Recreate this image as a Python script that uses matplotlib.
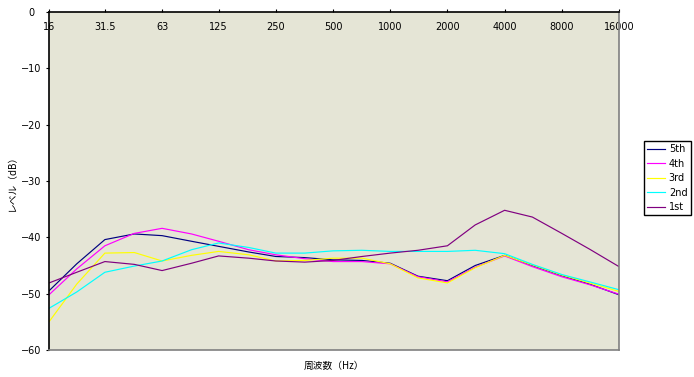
import matplotlib
matplotlib.use("Agg")
import matplotlib.pyplot as plt
from matplotlib.ticker import FixedLocator, FixedFormatter, NullLocator

# Data
freqs = [16, 22.4, 31.5, 45, 63, 90, 125, 180, 250, 355, 500, 710,
         1000, 1400, 2000, 2800, 4000, 5600, 8000, 11200, 16000]
s5th = [-49.5, -44.7, -40.4, -39.4, -39.7, -40.7, -41.6, -42.6, -43.4, -43.6, -44.0,
        -44.1, -44.6, -46.9, -47.7, -45.0, -43.2, -45.0, -46.8, -48.3, -50.2]
s4th = [-50.2, -45.6, -41.5, -39.3, -38.4, -39.4, -40.7, -42.2, -43.1, -43.8, -44.3,
        -44.3, -44.7, -47.0, -47.9, -45.3, -43.3, -45.2, -47.0, -48.4, -50.1]
s3rd = [-55.0, -48.3, -42.8, -42.7, -44.2, -43.2, -42.5, -43.1, -44.2, -44.1, -43.7,
        -43.7, -44.7, -47.2, -48.1, -45.4, -43.2, -44.9, -46.7, -48.1, -49.6]
s2nd = [-52.6, -49.7, -46.2, -45.1, -44.2, -42.2, -41.0, -41.8, -42.8, -42.8, -42.4,
        -42.3, -42.5, -42.5, -42.5, -42.3, -42.9, -44.8, -46.6, -47.9, -49.3]
s1st = [-48.1, -46.2, -44.3, -44.8, -45.9, -44.6, -43.3, -43.7, -44.2, -44.4, -44.1,
        -43.4, -42.8, -42.3, -41.5, -37.8, -35.2, -36.4, -39.3, -42.1, -45.2]
series_names = ["5th", "4th", "3rd", "2nd", "1st"]
series_vals = [s5th, s4th, s3rd, s2nd, s1st]
series_colors = ["#000080", "#FF00FF", "#FFFF00", "#00FFFF", "#800080"]

xtick_vals = [16, 31.5, 63, 125, 250, 500, 1000, 2000, 4000, 8000, 16000]
xtick_labels = ["16", "31.5", "63", "125", "250", "500", "1000", "2000", "4000", "8000", "16000"]
ytick_vals = [0, -10, -20, -30, -40, -50, -60]

W, H = 694, 377
fig = plt.figure(figsize=(W / 100, H / 100), dpi=100)
fig.patch.set_facecolor("white")
ax = fig.add_axes([49 / W, 1 - 350 / H, (619 - 49) / W, (350 - 12) / H])
ax.set_facecolor("#E5E5D6")

for name, vals, col in zip(series_names, series_vals, series_colors):
    ax.plot(freqs, vals, color=col, lw=0.85, label=name)

ax.set_xscale("log")
ax.set_xlim(16, 16000)
ax.set_ylim(-60, 0)
ax.xaxis.set_major_locator(FixedLocator(xtick_vals))
ax.xaxis.set_major_formatter(FixedFormatter(xtick_labels))
ax.xaxis.set_minor_locator(NullLocator())
ax.set_yticks(ytick_vals)

ax.tick_params(axis="x", which="major", top=True, bottom=False, labeltop=True,
               labelbottom=False, direction="out", length=2.5, width=0.8,
               pad=-17, labelsize=7)
ax.tick_params(axis="y", which="major", left=True, right=False, direction="out",
               length=2.5, width=0.8, pad=10, labelsize=7)
for lab in ax.get_yticklabels():
    lab.set_horizontalalignment("center")
for lab in ax.get_xticklabels():
    lab.set_verticalalignment("bottom")

for side in ["left", "top"]:
    ax.spines[side].set_color("black")
    ax.spines[side].set_linewidth(1.2)
for side in ["right", "bottom"]:
    ax.spines[side].set_color("#808080")
    ax.spines[side].set_linewidth(1.2)

cjk = ["Noto Sans CJK JP", "DejaVu Sans"]
fig.text(334 / W, 1 - 366 / H, "周波数（Hz）", ha="center", va="center",
         fontsize=7, family=cjk)
fig.text(12 / W, 1 - 180 / H, "レベル（dB）", ha="center", va="center",
         fontsize=7, rotation=90, family=cjk)

leg = fig.legend(loc="upper left", bbox_to_anchor=(644 / W, 1 - 141 / H),
                 borderaxespad=0, frameon=True, fancybox=False, fontsize=7,
                 handlelength=1.8, handletextpad=0.4, labelspacing=0.45,
                 borderpad=0.35, markerfirst=True)
leg.get_frame().set_edgecolor("black")
leg.get_frame().set_linewidth(1.0)
leg.get_frame().set_facecolor("white")
leg.get_frame().set_alpha(1)
for t in leg.get_texts():
    t.set_horizontalalignment("left")

fig.savefig("out.png", dpi=100)
